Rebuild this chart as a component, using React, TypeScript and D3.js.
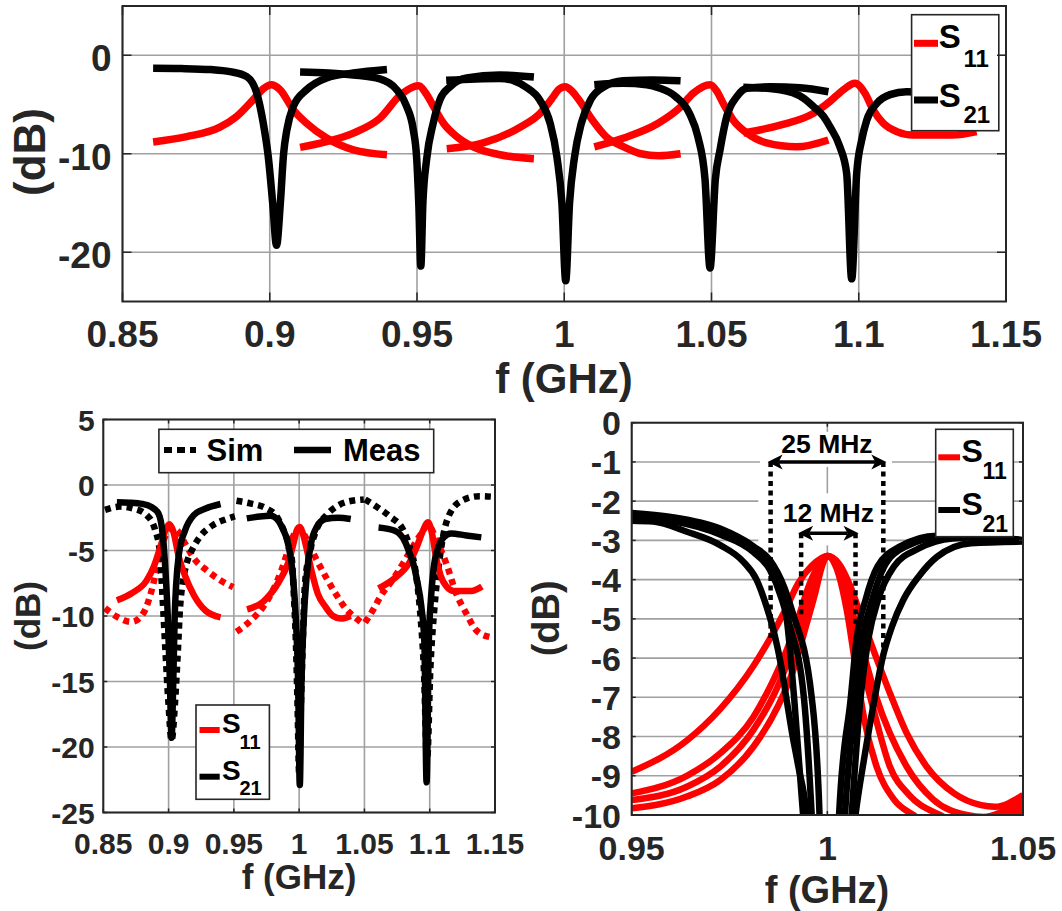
import React from "react";
import * as d3 from "d3";

type Pt = [number, number]; // [frequency GHz, level dB]

// ---------- Wide sweep: five tuning states (measured) ----------
const wideS11A: Pt[] = [[0.8604,-8.8],[0.8718,-8.26],[0.8831,-7.3],[0.8888,-6.2],[0.8944,-4.5],[0.8978,-3.4],[0.9005,-3.0],[0.9035,-3.5],[0.908,-5.55],[0.9125,-6.9],[0.9193,-8.4],[0.9284,-9.6],[0.9398,-10.1]];
const wideS21A: Pt[] = [[0.8604,-1.32],[0.870,-1.35],[0.880,-1.45],[0.8865,-1.66],[0.8922,-2.17],[0.8956,-3.86],[0.8978,-6.9],[0.8995,-10.3],[0.901,-15],[0.9023,-19.3],[0.9036,-15],[0.9047,-10],[0.9058,-7.6],[0.908,-5.2],[0.9125,-3.5],[0.9193,-2.3],[0.9284,-1.8],[0.9398,-1.45]];

const wideS11B: Pt[] = [[0.9103,-9.35],[0.9193,-8.77],[0.9284,-7.9],[0.9374,-6.4],[0.9445,-4.0],[0.9505,-3.1],[0.9533,-4.0],[0.9556,-5.2],[0.959,-6.9],[0.9635,-8.26],[0.9691,-9.3],[0.9782,-10.1],[0.9897,-10.5]];
const wideS21B: Pt[] = [[0.9103,-1.7],[0.92,-1.8],[0.9284,-2.0],[0.9374,-2.4],[0.9431,-3.5],[0.9465,-5.2],[0.9487,-7.5],[0.9499,-10.5],[0.9506,-15],[0.9513,-21.4],[0.952,-15],[0.9533,-10.5],[0.9555,-6.9],[0.9578,-4.5],[0.9612,-3.2],[0.9669,-2.3],[0.978,-2.0],[0.9897,-2.2]];

const wideS11C: Pt[] = [[0.9601,-9.5],[0.9725,-8.9],[0.985,-7.3],[0.9918,-5.9],[0.9963,-4.2],[0.998,-3.5],[1.0003,-3.2],[1.0025,-3.6],[1.0049,-4.5],[1.0096,-6.6],[1.0143,-8.3],[1.0202,-9.3],[1.026,-10.0],[1.032,-10.2],[1.0395,-10.0]];
const wideS21C: Pt[] = [[0.9599,-2.55],[0.97,-2.4],[0.978,-2.35],[0.983,-2.6],[0.9868,-3.2],[0.9918,-4.6],[0.9952,-6.9],[0.9975,-10.3],[0.9992,-15],[1.0005,-22.9],[1.0018,-15],[1.0035,-10.3],[1.0058,-6.9],[1.009,-4.5],[1.0135,-3.2],[1.02,-2.6],[1.03,-2.5],[1.0395,-2.6]];

const wideS11D: Pt[] = [[1.0102,-9.3],[1.0202,-8.4],[1.0319,-6.9],[1.0393,-5.3],[1.0438,-3.86],[1.0495,-3.0],[1.0517,-3.6],[1.054,-4.9],[1.0574,-6.6],[1.062,-7.9],[1.0687,-8.9],[1.0789,-9.3],[1.0897,-8.6]];
const wideS21D: Pt[] = [[1.0102,-3.0],[1.02,-2.85],[1.028,-3.0],[1.032,-3.3],[1.0378,-4.2],[1.0425,-5.9],[1.0454,-8.3],[1.0478,-12.6],[1.0495,-21.6],[1.0513,-12.6],[1.0529,-9.6],[1.0552,-6.2],[1.0586,-4.2],[1.062,-3.35],[1.07,-3.2],[1.08,-3.3],[1.0897,-3.7]];

const wideS11E: Pt[] = [[1.0608,-7.9],[1.0733,-7.1],[1.0846,-5.9],[1.0902,-4.7],[1.0948,-3.5],[1.0987,-2.85],[1.1021,-3.86],[1.1049,-5.55],[1.1083,-6.9],[1.1129,-7.75],[1.1185,-8.1],[1.1317,-8.1],[1.14,-7.75]];
const wideS21E: Pt[] = [[1.0608,-3.25],[1.0733,-3.5],[1.0812,-4.35],[1.0846,-5.2],[1.088,-6.2],[1.0902,-7.25],[1.0936,-9.3],[1.0959,-12],[1.0976,-22.7],[1.0993,-12],[1.101,-8.6],[1.1027,-6.6],[1.1061,-4.9],[1.1106,-4.0],[1.1163,-3.7],[1.128,-3.85],[1.1395,-4.0]];

// ---------- Simulation (three states, 0.1 GHz windows) ----------
const simS11A: Pt[] = [[0.8513,-9.4],[0.8603,-10.05],[0.8717,-10.45],[0.8806,-9.8],[0.8857,-8.5],[0.8896,-7.0],[0.8934,-5.2],[0.8972,-3.95],[0.9023,-3.3],[0.9074,-3.55],[0.9125,-4.45],[0.9202,-5.7],[0.9291,-6.5],[0.9393,-7.25],[0.9495,-7.8]];
const simS21A: Pt[] = [[0.8513,-1.9],[0.8628,-1.65],[0.873,-1.8],[0.8832,-2.3],[0.8896,-3.4],[0.8934,-5.2],[0.8946,-7.2],[0.8959,-9.5],[0.8975,-12.5],[0.8998,-16.5],[0.9023,-19.5],[0.905,-16.5],[0.9072,-12.5],[0.9087,-9.5],[0.9112,-7.2],[0.9138,-6.0],[0.919,-4.75],[0.924,-3.95],[0.9342,-3.05],[0.9444,-2.6],[0.9508,-2.4]];

const simS11B: Pt[] = [[0.952,-11.2],[0.9623,-10.4],[0.9724,-9.3],[0.9801,-8.0],[0.9865,-6.5],[0.9915,-5.0],[0.9965,-3.7],[1.0005,-3.3],[1.0045,-3.9],[1.0089,-4.8],[1.0133,-5.7],[1.0209,-7.1],[1.0286,-8.4],[1.0362,-9.5],[1.0439,-10.2],[1.049,-10.6]];
const simS21B: Pt[] = [[0.952,-1.2],[0.9623,-1.4],[0.975,-1.8],[0.9827,-2.4],[0.989,-3.7],[0.9942,-5.5],[0.996,-8.5],[0.9975,-12],[0.9988,-17],[1.0,-22],[1.0013,-17],[1.0028,-12],[1.0043,-7.8],[1.0081,-5.2],[1.0133,-3.4],[1.0209,-2.3],[1.0311,-1.5],[1.0439,-1.15],[1.0495,-1.1]];

const simS11C: Pt[] = [[1.0505,-10.5],[1.058,-9.3],[1.0617,-8.6],[1.0719,-7.2],[1.0795,-6.0],[1.0872,-4.7],[1.0936,-3.7],[1.0987,-3.05],[1.1051,-4.2],[1.1127,-6.0],[1.1204,-8.3],[1.128,-9.8],[1.1357,-11.1],[1.1459,-11.6],[1.1495,-11.65]];
const simS21C: Pt[] = [[1.0505,-1.1],[1.0592,-1.65],[1.0694,-2.4],[1.0795,-3.4],[1.0847,-4.7],[1.089,-6.5],[1.0925,-9.5],[1.0955,-14],[1.098,-21],[1.1005,-14],[1.1035,-9.5],[1.1065,-6.5],[1.1101,-4.0],[1.1153,-2.2],[1.1255,-1.15],[1.1382,-0.85],[1.1486,-0.9]];

// ---------- Close-up at 1 GHz: four bandwidth settings ----------
const zoomS11A: Pt[] = [[0.95,-8.9],[0.9641,-8.1],[0.9726,-7.3],[0.9811,-6.2],[0.9862,-5.35],[0.9896,-4.7],[0.9925,-4.1],[0.996,-3.65],[1.0,-3.4],[1.003,-3.6],[1.006,-4.2],[1.0085,-4.9],[1.0124,-5.96],[1.0167,-7.07],[1.0203,-7.92],[1.0254,-8.77],[1.0324,-9.45],[1.0393,-9.75],[1.0428,-9.79],[1.05,-9.49]];
const zoomS11B: Pt[] = [[0.95,-9.45],[0.9641,-9.0],[0.9726,-8.43],[0.9811,-7.5],[0.9862,-6.56],[0.9896,-5.8],[0.9925,-5.0],[0.9955,-4.1],[0.998,-3.6],[1.0,-3.4],[1.003,-3.75],[1.0055,-4.5],[1.0085,-5.6],[1.0125,-7.0],[1.0203,-8.77],[1.027,-9.6],[1.0356,-10.0],[1.04,-10.05],[1.045,-9.9],[1.05,-9.65]];
const zoomS11C: Pt[] = [[0.95,-9.62],[0.9641,-9.28],[0.9726,-8.77],[0.9811,-7.83],[0.9873,-6.73],[0.9907,-5.88],[0.9934,-5.1],[0.996,-4.2],[0.9983,-3.65],[1.0,-3.4],[1.003,-3.8],[1.0052,-4.6],[1.008,-5.8],[1.0115,-7.2],[1.016,-8.77],[1.021,-9.5],[1.0288,-10.0],[1.036,-10.3],[1.044,-10.1],[1.05,-9.8]];
const zoomS11D: Pt[] = [[0.95,-9.83],[0.9641,-9.53],[0.9726,-9.11],[0.9811,-8.26],[0.9873,-7.24],[0.9916,-6.22],[0.9945,-5.2],[0.997,-4.3],[0.9985,-3.7],[1.0,-3.4],[1.003,-3.9],[1.005,-4.8],[1.0072,-6.2],[1.0095,-7.6],[1.0126,-8.77],[1.017,-9.6],[1.022,-10.0],[1.03,-10.4],[1.04,-10.35],[1.05,-9.9]];

const zoomS21A: Pt[] = [[0.95,-2.5],[0.9555,-2.52],[0.9641,-2.78],[0.9726,-3.12],[0.9785,-3.54],[0.9819,-4.0],[0.9845,-4.7],[0.9865,-5.4],[0.9882,-6.2],[0.9896,-7.07],[0.991,-7.92],[0.9926,-8.77],[0.9947,-10.0],[0.998,-16],[1.0,-22],[1.002,-16],[1.0072,-10],[1.0095,-8.5],[1.012,-7.07],[1.0142,-5.96],[1.0165,-5.2],[1.0194,-4.52],[1.0235,-3.9],[1.028,-3.42],[1.0367,-3.07],[1.05,-3.03]];
const zoomS21B: Pt[] = [[0.95,-2.4],[0.96,-2.5],[0.9726,-2.85],[0.9811,-3.3],[0.9853,-3.75],[0.988,-4.4],[0.9896,-5.0],[0.9915,-7.0],[0.9938,-10],[0.9975,-16],[1.0,-22],[1.0025,-16],[1.0062,-10],[1.0085,-7.0],[1.0105,-5.5],[1.013,-4.5],[1.017,-3.67],[1.0235,-3.2],[1.032,-2.95],[1.04,-2.92],[1.05,-3.0]];
const zoomS21C: Pt[] = [[0.95,-2.35],[0.96,-2.45],[0.9726,-2.75],[0.9811,-3.2],[0.9853,-3.6],[0.9885,-4.3],[0.99,-5.0],[0.994,-7.0],[0.996,-10],[0.9985,-16],[1.0,-22],[1.0018,-16],[1.0045,-10],[1.0072,-7.0],[1.009,-5.5],[1.0115,-4.5],[1.0145,-3.67],[1.02,-3.16],[1.03,-2.9],[1.04,-2.9],[1.05,-3.0]];
const zoomS21D: Pt[] = [[0.95,-2.3],[0.96,-2.4],[0.9726,-2.7],[0.9811,-3.15],[0.9853,-3.5],[0.989,-4.2],[0.991,-4.8],[0.996,-7.0],[0.998,-10],[0.9992,-16],[1.0,-22],[1.001,-16],[1.003,-10],[1.006,-7.0],[1.0075,-5.5],[1.0098,-4.5],[1.0128,-3.67],[1.0185,-3.16],[1.028,-2.88],[1.04,-2.9],[1.05,-3.0]];

// Bandwidth markers: [lower edge, upper edge] in GHz, arrow level, foot levels (dB)
const bwWideEdges = [0.9855, 1.0143];
const bwNarrowEdges = [0.9933, 1.0072];
const bwArrowLevels = [-1, -2.82];
const bwWideFeet = [-5.5, -5.9];
const bwNarrowFeet = [-5.0, -5.2];
const bwLabels = ["25 MHz", "12 MHz"];

// Tick values
const wideXTicks = [0.85, 0.9, 0.95, 1, 1.05, 1.1, 1.15];
const wideYTicks = [0, -10, -20];
const cmpYTicks = [5, 0, -5, -10, -15, -20, -25];
const zoomXTicks = [0.95, 1, 1.05];
const zoomYTicks = [0, -1, -2, -3, -4, -5, -6, -7, -8, -9, -10];

const FONT = "'Liberation Sans', Arial, Helvetica, sans-serif";
const RED = "#ff0000";
const BLACK = "#000000";
const INK = "#262626";
const GRID = "#a0a0a0";

type Scale = d3.ScaleLinear<number, number>;
interface Frame {
  left: number; right: number; top: number; bottom: number;
  xDomain: [number, number]; yDomain: [number, number];
  xTicks: number[]; yTicks: number[];
  tickFont: number; tickLen: number;
  xTickBase: number; yTickRight: number; yTickDy: number;
  xTitle: [number, number, number];
  yTitle: [number, number, number];
}
interface Trace { pts: Pt[]; color: string; width: number; dash?: string }

const fmt = (v: number) => String(+v.toFixed(3));

function Panel({ id, f, traces, under, over }: {
  id: string; f: Frame; traces: Trace[];
  under?: (x: Scale, y: Scale) => React.ReactNode;
  over?: (x: Scale, y: Scale) => React.ReactNode;
}) {
  const x = d3.scaleLinear().domain(f.xDomain).range([f.left, f.right]);
  const y = d3.scaleLinear().domain(f.yDomain).range([f.bottom, f.top]);
  const line = d3.line<Pt>().x(d => x(d[0])).y(d => y(d[1])).curve(d3.curveMonotoneX);
  const w = f.right - f.left, h = f.bottom - f.top;
  return (
    <g>
      <defs>
        <clipPath id={id}><rect x={f.left} y={f.top} width={w} height={h} /></clipPath>
      </defs>
      {f.xTicks.map(t => (
        <line key={"gx" + t} x1={x(t)} x2={x(t)} y1={f.top} y2={f.bottom} stroke={GRID} strokeWidth={1.6} />
      ))}
      {f.yTicks.map(t => (
        <line key={"gy" + t} x1={f.left} x2={f.right} y1={y(t)} y2={y(t)} stroke={GRID} strokeWidth={1.6} />
      ))}
      {under && under(x, y)}
      <g clipPath={`url(#${id})`}>
        {traces.map((t, i) => (
          <path key={i} d={line(t.pts) || ""} fill="none" stroke={t.color} strokeWidth={t.width}
            strokeDasharray={t.dash} strokeLinejoin="round" strokeLinecap="butt" />
        ))}
      </g>
      {over && over(x, y)}
      <rect x={f.left} y={f.top} width={w} height={h} fill="none" stroke={INK} strokeWidth={2} />
      {f.xTicks.map(t => (
        <g key={"tx" + t} stroke={INK} strokeWidth={1.5}>
          <line x1={x(t)} x2={x(t)} y1={f.bottom} y2={f.bottom - f.tickLen} />
          <line x1={x(t)} x2={x(t)} y1={f.top} y2={f.top + f.tickLen} />
        </g>
      ))}
      {f.yTicks.map(t => (
        <g key={"ty" + t} stroke={INK} strokeWidth={1.5}>
          <line x1={f.left} x2={f.left + f.tickLen} y1={y(t)} y2={y(t)} />
          <line x1={f.right} x2={f.right - f.tickLen} y1={y(t)} y2={y(t)} />
        </g>
      ))}
      <g fontFamily={FONT} fontWeight="bold" fontSize={f.tickFont} fill={INK}>
        {f.xTicks.map(t => (
          <text key={"lx" + t} x={x(t)} y={f.xTickBase} textAnchor="middle">{fmt(t)}</text>
        ))}
        {f.yTicks.map(t => (
          <text key={"ly" + t} x={f.yTickRight} y={y(t) + f.yTickDy} textAnchor="end">{fmt(t)}</text>
        ))}
      </g>
      <text x={f.xTitle[0]} y={f.xTitle[1]} textAnchor="middle" fontFamily={FONT} fontWeight="bold"
        fontSize={f.xTitle[2]} fill={INK}>f (GHz)</text>
      <text transform={`translate(${f.yTitle[0]},${f.yTitle[1]}) rotate(-90)`} textAnchor="middle"
        fontFamily={FONT} fontWeight="bold" fontSize={f.yTitle[2]} fill={INK}>(dB)</text>
    </g>
  );
}

// Legend with S11 / S21 entries; geometry given in page pixels
function SLegend({ box, lineX, lineY, lineW, sX, sBase, sSize, subX, subBase, subSize }: {
  box: [number, number, number, number]; lineX: [number, number]; lineY: [number, number]; lineW: number;
  sX: number; sBase: [number, number]; sSize: number; subX: number; subBase: [number, number]; subSize: number;
}) {
  const names = ["11", "21"];
  const colors = [RED, BLACK];
  return (
    <g>
      <rect x={box[0]} y={box[1]} width={box[2] - box[0]} height={box[3] - box[1]} fill="#fff" stroke={INK} strokeWidth={1.6} />
      {names.map((n, i) => (
        <g key={n}>
          <line x1={lineX[0]} x2={lineX[1]} y1={lineY[i]} y2={lineY[i]} stroke={colors[i]} strokeWidth={lineW} />
          <text x={sX} y={sBase[i]} fontFamily={FONT} fontWeight="bold" fontSize={sSize} fill="#000">S</text>
          <text x={subX} y={subBase[i]} fontFamily={FONT} fontWeight="bold" fontSize={subSize} fill="#000">{n}</text>
        </g>
      ))}
    </g>
  );
}

function DoubleArrow({ x1, x2, y }: { x1: number; x2: number; y: number }) {
  const L = 15, W = 7.5, N = 11;
  return (
    <g fill="#000">
      <line x1={x1 + N} x2={x2 - N} y1={y} y2={y} stroke="#000" strokeWidth={3.5} />
      <polygon points={`${x1},${y} ${x1 + L},${y - W} ${x1 + N},${y} ${x1 + L},${y + W}`} />
      <polygon points={`${x2},${y} ${x2 - L},${y - W} ${x2 - N},${y} ${x2 - L},${y + W}`} />
    </g>
  );
}

const wideFrame: Frame = {
  left: 122.5, right: 1006, top: 6, bottom: 301.5,
  xDomain: [0.85, 1.15], yDomain: [-25, 5],
  xTicks: wideXTicks, yTicks: wideYTicks,
  tickFont: 37, tickLen: 9,
  xTickBase: 347, yTickRight: 111.5, yTickDy: 16,
  xTitle: [564, 393, 42], yTitle: [45, 152, 44],
};

const cmpFrame: Frame = {
  left: 103.3, right: 495, top: 419.5, bottom: 812.5,
  xDomain: [0.85, 1.15], yDomain: [-25, 5],
  xTicks: wideXTicks, yTicks: cmpYTicks,
  tickFont: 30, tickLen: 4,
  xTickBase: 854, yTickRight: 94.7, yTickDy: 11,
  xTitle: [299, 889, 35], yTitle: [40, 616, 35],
};

const zoomFrame: Frame = {
  left: 631.7, right: 1023, top: 422.7, bottom: 815,
  xDomain: [0.95, 1.05], yDomain: [-10, 0],
  xTicks: zoomXTicks, yTicks: zoomYTicks,
  tickFont: 34, tickLen: 4,
  xTickBase: 860, yTickRight: 621, yTickDy: 12.5,
  xTitle: [827, 903, 38], yTitle: [559.3, 618.3, 38],
};

export default function App() {
  const wideTraces: Trace[] = [
    ...[wideS11A, wideS11B, wideS11C, wideS11D, wideS11E].map(p => ({ pts: p, color: RED, width: 7.5 })),
    ...[wideS21A, wideS21B, wideS21C, wideS21D, wideS21E].map(p => ({ pts: p, color: BLACK, width: 7.5 })),
  ];
  const dotted = "6 5";
  const cmpTraces: Trace[] = [
    ...[simS11A, simS11B, simS11C].map(p => ({ pts: p, color: RED, width: 6.5, dash: dotted })),
    ...[simS21A, simS21B, simS21C].map(p => ({ pts: p, color: BLACK, width: 6.5, dash: dotted })),
    ...[wideS11A, wideS11C, wideS11E].map(p => ({ pts: p, color: RED, width: 6.5 })),
    ...[wideS21A, wideS21C, wideS21E].map(p => ({ pts: p, color: BLACK, width: 6.5 })),
  ];
  const zoomTraces: Trace[] = [
    ...[zoomS11A, zoomS11B, zoomS11C, zoomS11D].map(p => ({ pts: p, color: RED, width: 6.5 })),
    ...[zoomS21A, zoomS21B, zoomS21C, zoomS21D].map(p => ({ pts: p, color: BLACK, width: 6.5 })),
  ];

  const edges = [bwWideEdges, bwNarrowEdges];
  const feet = [bwWideFeet, bwNarrowFeet];
  // white text backgrounds around each bandwidth label: [dx0, dx1, dy0, dy1] from arrow centre
  const labelPads = [[-67, 65, -30, 5], [-70, 56, -40, 12]];
  const labelLift = [8.6, 11.6];

  return (
    <svg width={1062} height={911} style={{ position: "absolute", left: 0, top: 0, background: "#fff" }}>
      <rect x={0} y={0} width={1062} height={911} fill="#fff" />

      <Panel id="clipWide" f={wideFrame} traces={wideTraces}
        over={() => (
          <SLegend box={[911.6, 14.7, 998.8, 130.7]} lineX={[914, 938]} lineY={[43.3, 100]} lineW={7}
            sX={938.7} sBase={[48.3, 106.7]} sSize={33} subX={963.5} subBase={[66.7, 123.3]} subSize={24} />
        )} />

      <Panel id="clipCmp" f={cmpFrame} traces={cmpTraces}
        over={() => (
          <g>
            <rect x={158.9} y={429.3} width={433.7 - 158.9} height={472.7 - 429.3} fill="#fff" stroke={INK} strokeWidth={1.6} />
            <line x1={164} x2={196} y1={450} y2={450} stroke="#000" strokeWidth={6} strokeDasharray="8 5" />
            <text x={206.5} y={461} fontFamily={FONT} fontWeight="bold" fontSize={31} fill="#000">Sim</text>
            <line x1={294} x2={331} y1={450} y2={450} stroke="#000" strokeWidth={6.5} />
            <text x={343} y={461} fontFamily={FONT} fontWeight="bold" fontSize={31} fill="#000">Meas</text>
            <SLegend box={[196, 705, 269.4, 799.3]} lineX={[199.5, 219.7]} lineY={[730, 776.7]} lineW={6}
              sX={222} sBase={[733.3, 780]} sSize={28} subX={239.5} subBase={[748.5, 795]} subSize={20} />
          </g>
        )} />

      <Panel id="clipZoom" f={zoomFrame} traces={zoomTraces}
        under={(x, y) => (
          <g>
            {edges.map((e, i) => {
              const cx = (x(e[0]) + x(e[1])) / 2;
              const ay = y(bwArrowLevels[i]);
              const p = labelPads[i];
              return <rect key={i} x={cx + p[0]} y={ay + p[2]} width={p[1] - p[0]} height={p[3] - p[2]} fill="#fff" />;
            })}
          </g>
        )}
        over={(x, y) => (
          <g>
            {edges.map((e, i) => (
              <g key={"d" + i}>
                {e.map((fq, j) => (
                  <line key={j} x1={x(fq)} x2={x(fq)} y1={y(bwArrowLevels[i])} y2={y(feet[i][j])}
                    stroke="#000" strokeWidth={4.5} strokeDasharray="5 4.5" />
                ))}
              </g>
            ))}
            {edges.map((e, i) => {
              const ay = y(bwArrowLevels[i]);
              const cx = (x(e[0]) + x(e[1])) / 2;
              return (
                <g key={"a" + i}>
                  <DoubleArrow x1={x(e[0]) - 3} x2={x(e[1]) + 3} y={ay} />
                  <text x={cx} y={ay - labelLift[i]} textAnchor="middle" fontFamily={FONT} fontWeight="bold"
                    fontSize={26.5} fill="#000">{bwLabels[i]}</text>
                </g>
              );
            })}
            <SLegend box={[935.7, 429.3, 1013.3, 536.7]} lineX={[938.3, 960]} lineY={[457.3, 510]} lineW={6}
              sX={961.5} sBase={[461.7, 515]} sSize={32} subX={982.5} subBase={[479.3, 531.7]} subSize={23} />
          </g>
        )} />
    </svg>
  );
}
